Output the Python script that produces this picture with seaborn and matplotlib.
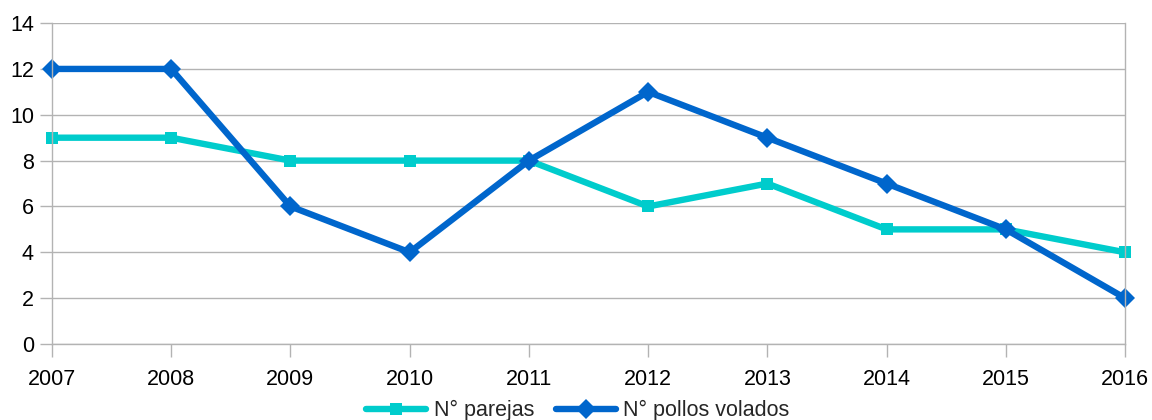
import matplotlib
matplotlib.use("Agg")
import matplotlib.pyplot as plt
import seaborn as sns
import pandas as pd

years = [2007, 2008, 2009, 2010, 2011, 2012, 2013, 2014, 2015, 2016]
parejas = [9, 9, 8, 8, 8, 6, 7, 5, 5, 4]
pollos = [12, 12, 6, 4, 8, 11, 9, 7, 5, 2]
series_names = ["N° parejas", "N° pollos volados"]
yticks = [0, 2, 4, 6, 8, 10, 12, 14]

sns.set_theme(style="white")
plt.rcParams['font.family'] = ['Liberation Sans', 'DejaVu Sans']
fs = 15.5

df = pd.DataFrame({
    "year": years * 2,
    "value": parejas + pollos,
    "serie": [series_names[0]] * len(years) + [series_names[1]] * len(years),
})

fig = plt.figure(figsize=(11.52, 4.2), dpi=100)
ax = fig.add_axes([0.0451, 0.181, 0.9315, 0.764])

palette = {series_names[0]: "#00CCCC", series_names[1]: "#0066CC"}
sns.lineplot(data=df, x="year", y="value", hue="serie", style="serie",
             markers={series_names[0]: "s", series_names[1]: "D"},
             dashes=False, palette=palette, linewidth=4.6, markersize=9,
             markeredgewidth=0, ax=ax)

ax.set_xlim(years[0], years[-1])
ax.set_ylim(0, 14)
ax.set_xticks(years)
ax.set_xticklabels([str(y) for y in years])
ax.set_yticks(yticks)
ax.grid(axis="y", color="#b3b3b3", linewidth=1)
ax.set_axisbelow(True)
ax.set_xlabel("")
ax.set_ylabel("")
for s in ["left", "right", "bottom"]:
    ax.spines[s].set_visible(True)
    ax.spines[s].set_color("#b3b3b3")
    ax.spines[s].set_linewidth(1)
ax.spines["top"].set_visible(False)
ax.tick_params(axis="both", which="both", direction="out", length=9, width=1,
               color="#b3b3b3", labelsize=fs, labelcolor="black",
               bottom=True, left=True)
ax.tick_params(axis="x", pad=9)
ax.tick_params(axis="y", pad=4)

for line in ax.get_lines():
    line.set_clip_on(False)
    if line.get_marker() == "D":
        line.set_markersize(10)

leg = ax.legend(loc="upper center", bbox_to_anchor=(0.49, -0.175), ncol=2, frameon=False,
                fontsize=fs, handlelength=2.8, columnspacing=1.0,
                handletextpad=0.35, borderaxespad=0, borderpad=0)
for h in leg.legend_handles:
    h.set_linewidth(4.6)
    if h.get_marker() == "D":
        h.set_markersize(10)

fig.savefig("out.png", dpi=100)
